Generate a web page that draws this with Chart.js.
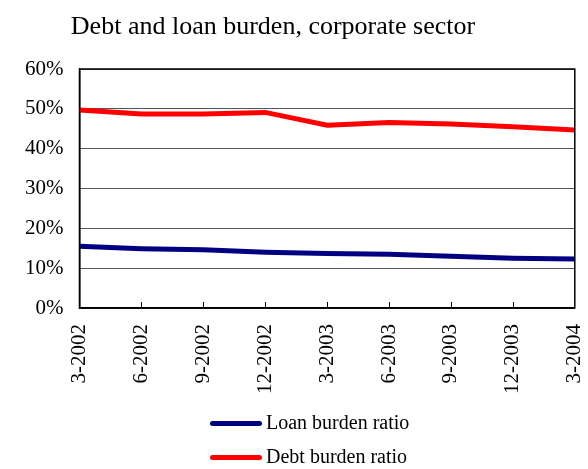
<!DOCTYPE html>
<html>
<head>
<meta charset="utf-8">
<script src="https://cdn.jsdelivr.net/npm/chart.js@4"></script>
<style>
  html, body { margin: 0; padding: 0; background: #fff; }
  #wrap { width: 588px; height: 469px; position: relative; overflow: hidden; }
  #c { position: absolute; left: 0; top: 0; }
  #title { position: absolute; left: 0; top: 11px; width: 546px; text-align: center; font-family: 'Liberation Serif', 'Times New Roman', serif; font-size: 26px; line-height: 30px; color: #000; white-space: nowrap; }
  #legend { position: absolute; left: 210px; top: 410px; font-family: 'Liberation Serif', 'Times New Roman', serif; font-size: 20px; color: #000; }
  .item { height: 24px; line-height: 24px; margin-bottom: 10px; white-space: nowrap; }
  .swatch { display: inline-block; width: 52px; height: 5px; border-radius: 3px; vertical-align: middle; margin-right: 4px; position: relative; top: -1px; }
</style>
</head>
<body>
<div id="wrap">
  <canvas id="c" width="616" height="469"></canvas>
  <div id="title">Debt and loan burden, corporate sector</div>
  <div id="legend"></div>
</div>
<script>
// quarters on the x axis
const quarters = ['3-2002', '6-2002', '9-2002', '12-2002', '3-2003', '6-2003', '9-2003', '12-2003', '3-2004'];
// ratios in percent
const loanBurden = [15.5, 14.9, 14.6, 14.0, 13.7, 13.5, 13.0, 12.5, 12.3];
const debtBurden = [49.7, 48.7, 48.7, 49.1, 45.9, 46.6, 46.2, 45.5, 44.7];
const yTicks = [0, 10, 20, 30, 40, 50, 60];

const serif = "'Liberation Serif', 'Times New Roman', serif";

// black frame round the plot + small inward ticks on the x axis
const framePlugin = {
  id: 'frame',
  afterDraw(chart) {
    const { ctx, chartArea: a, scales } = chart;
    ctx.save();
    ctx.strokeStyle = '#000';
    ctx.lineWidth = 1.5;
    ctx.strokeRect(a.left, a.top, a.right - a.left, a.bottom - a.top);
    ctx.lineWidth = 1;
    const xs = scales.x;
    for (let i = 1; i < xs.ticks.length - 1; i++) {
      const x = Math.round(xs.getPixelForTick(i)) + 0.5;
      ctx.beginPath();
      ctx.moveTo(x, a.bottom);
      ctx.lineTo(x, a.bottom - 6);
      ctx.stroke();
    }
    ctx.restore();
  }
};

const chart = new Chart(document.getElementById('c').getContext('2d'), {
  type: 'line',
  data: {
    labels: quarters,
    datasets: [
      {
        label: 'Loan burden ratio',
        data: loanBurden,
        borderColor: '#000080',
        backgroundColor: '#000080',
        borderWidth: 5,
        pointRadius: 0,
        tension: 0
      },
      {
        label: 'Debt burden ratio',
        data: debtBurden,
        borderColor: '#ff0000',
        backgroundColor: '#ff0000',
        borderWidth: 5,
        pointRadius: 0,
        tension: 0
      }
    ]
  },
  options: {
    responsive: false,
    animation: false,
    layout: { padding: { left: 9, right: 0, top: 69, bottom: 59 } },
    plugins: {
      title: { display: false },
      legend: { display: false },
      tooltip: { enabled: false }
    },
    scales: {
      x: {
        offset: false,
        grid: { display: false, drawTicks: false },
        border: { display: true, color: '#000', width: 1.5 },
        ticks: {
          color: '#000',
          font: { family: serif, size: 21 },
          minRotation: 90,
          maxRotation: 90,
          padding: 16,
          autoSkip: false
        }
      },
      y: {
        min: 0,
        max: 60,
        afterBuildTicks(scale) { scale.ticks = yTicks.map(v => ({ value: v })); },
        grid: { color: '#555', lineWidth: 1, drawTicks: false },
        border: { display: true, color: '#000', width: 1.5 },
        ticks: {
          color: '#000',
          font: { family: serif, size: 21 },
          padding: 16,
          callback: v => v + '%'
        }
      }
    }
  },
  plugins: [framePlugin]
});

// html legend, stacked like the original
const legendEl = document.getElementById('legend');
chart.data.datasets.forEach(ds => {
  const row = document.createElement('div');
  row.className = 'item';
  const sw = document.createElement('span');
  sw.className = 'swatch';
  sw.style.background = ds.borderColor;
  row.appendChild(sw);
  row.appendChild(document.createTextNode(ds.label));
  legendEl.appendChild(row);
});
</script>
</body>
</html>
